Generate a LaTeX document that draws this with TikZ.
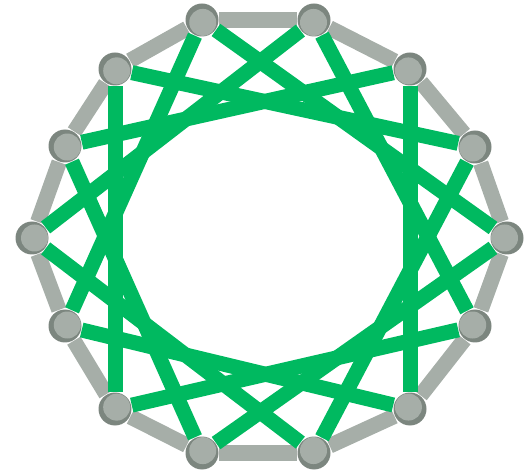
\documentclass[tikz,border=0pt]{standalone}
\usepackage{tikz}
\usetikzlibrary{calc}
\definecolor{ringgray}{RGB}{124,134,127}
\definecolor{fillgray}{RGB}{166,174,168}
\definecolor{chordgreen}{RGB}{0,185,96}

\begin{document}
\begin{tikzpicture}[x=1pt,y=-1pt,
  vtx/.style={circle,minimum size=34pt,inner sep=0pt},
  rim/.style={draw=fillgray,line width=15.5pt},
  chord/.style={draw=chordgreen,line width=15pt}]
\useasboundingbox (0,0) rectangle (528,473);
% Vertices
\coordinate (ctr) at (270,237);
\node[vtx] (n0) at (507,238) {};
\node[vtx] (n1) at (475,147) {};
\node[vtx] (n2) at (410,69) {};
\node[vtx] (n3) at (314,20) {};
\node[vtx] (n4) at (202,20) {};
\node[vtx] (n5) at (115,69) {};
\node[vtx] (n6) at (65,146) {};
\node[vtx] (n7) at (32,238) {};
\node[vtx] (n8) at (65,326) {};
\node[vtx] (n9) at (115,409) {};
\node[vtx] (n10) at (202,453) {};
\node[vtx] (n11) at (314,453) {};
\node[vtx] (n12) at (410,409) {};
\node[vtx] (n13) at (475,326) {};
% Outer cycle
\foreach \i [evaluate=\i as \j using {int(mod(\i+1,14))}] in {0,...,13}
  \draw[rim] (n\i) -- (n\j);
% Chords, step 4
\foreach \i [evaluate=\i as \j using {int(mod(\i+4,14))}] in {0,...,13}
  \draw[chord] (n\i) -- (n\j);
% Discs on top
\foreach \i in {0,...,13} {
  \fill[ringgray] (n\i.center) circle (16.5pt);
  \fill[fillgray] ($(n\i.center)!2.5pt!(ctr)$) circle (13.5pt);
}
\end{tikzpicture}
\end{document}
